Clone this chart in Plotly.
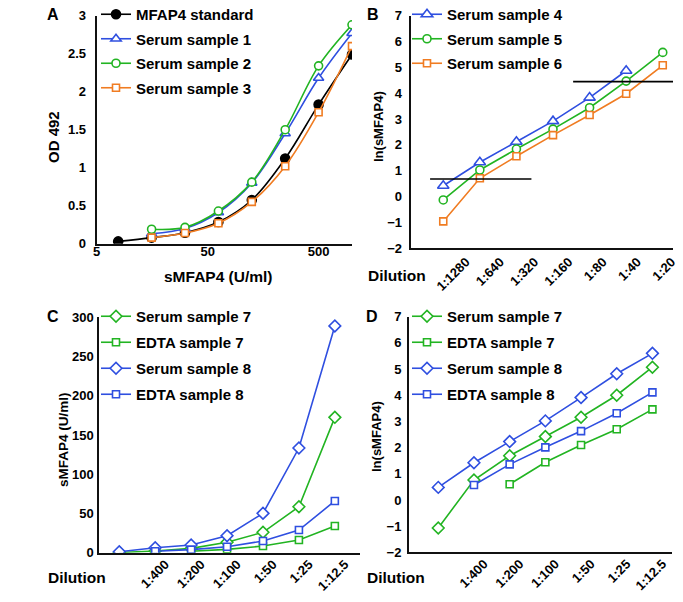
import plotly.graph_objects as go

# ---------------- data ----------------
# Panel A: standard curve and serum samples (OD 492 vs sMFAP4 U/ml)
conc_std = [7.8125, 15.625, 31.25, 62.5, 125, 250, 500, 1000]
od_standard = [0.03, 0.08, 0.145, 0.285, 0.575, 1.12, 1.83, 2.49]
conc_serum = [15.625, 31.25, 62.5, 125, 250, 500, 1000]
od_serum1 = [0.13, 0.20, 0.41, 0.80, 1.45, 2.18, 2.77]
od_serum2 = [0.19, 0.215, 0.43, 0.81, 1.50, 2.34, 2.88]
od_serum3 = [0.08, 0.14, 0.27, 0.55, 1.02, 1.73, 2.60]
a_ticks = [5, 50, 500]

# Panel B: ln(sMFAP4) vs dilution
dilution_B = ["1:1280", "1:640", "1:320", "1:160", "1:80", "1:40", "1:20"]
ln_serum4 = [0.42, 1.33, 2.12, 2.92, 3.83, 4.87, None]
ln_serum5 = [-0.13, 1.03, 1.84, 2.61, 3.44, 4.47, 5.58]
ln_serum6 = [-0.96, 0.71, 1.56, 2.38, 3.16, 3.98, 5.08]
cutoff_low = 0.68
cutoff_high = 4.45

# Panels C and D: serum vs EDTA plasma
dilution_CD = ["1:800", "1:400", "1:200", "1:100", "1:50", "1:25", "1:12.5"]
tick_labels_CD = ["", "1:400", "1:200", "1:100", "1:50", "1:25", "1:12.5"]
c_serum7 = [0.3, 2.2, 5.5, 13.3, 26.0, 58.6, 172.5]
c_edta7 = [None, None, 1.8, 4.2, 8.5, 16.2, 34.0]
c_serum8 = [1.3, 6.4, 9.8, 21.7, 50.2, 133.4, 289.0]
c_edta8 = [None, 1.8, 3.9, 7.5, 14.9, 28.9, 65.9]
d_serum7 = [-1.07, 0.76, 1.69, 2.42, 3.16, 4.00, 5.07]
d_edta7 = [None, None, 0.60, 1.44, 2.10, 2.70, 3.46]
d_serum8 = [0.48, 1.42, 2.23, 3.02, 3.91, 4.82, 5.60]
d_edta8 = [None, 0.57, 1.36, 2.01, 2.63, 3.31, 4.11]

# ---------------- styling ----------------
W, H = 683, 602
FONT = "Liberation Sans, Arial, sans-serif"
BLACK = "#000000"
BLUE = "#2f4fe0"
GREEN = "#22b422"
ORANGE = "#f07c22"


def px_x(p):
    return p / W


def px_y(p):
    return 1 - p / H


fig = go.Figure()
idx = list(range(7))
# in the original panel B the rotated labels are spread slightly tighter than the points
label_pos_B = [0.62 + 0.937 * i for i in idx]


def line_trace(x, y, name, color, symbol, xa, ya, legend, shape="linear", size=8, filled=False):
    return go.Scatter(
        x=x, y=y, name=name, mode="lines+markers",
        line=dict(color=color, width=1.6, shape=shape, smoothing=1.0),
        marker=dict(symbol=symbol, size=size, color=color if filled else "white",
                    line=dict(color=color, width=1.6)),
        xaxis=xa, yaxis=ya, legend=legend, legendgroup=name, connectgaps=False,
    )

# Panel A
fig.add_trace(line_trace(conc_std, od_standard, "MFAP4 standard", BLACK, "circle", "x", "y", "legend", "spline", 9, True))
fig.add_trace(line_trace(conc_serum, od_serum1, "Serum sample 1", BLUE, "triangle-up", "x", "y", "legend", "spline", 9))
fig.add_trace(line_trace(conc_serum, od_serum2, "Serum sample 2", GREEN, "circle", "x", "y", "legend", "spline", 8))
fig.add_trace(line_trace(conc_serum, od_serum3, "Serum sample 3", ORANGE, "square", "x", "y", "legend", "spline", 7))

# Panel B
fig.add_trace(line_trace(idx, ln_serum4, "Serum sample 4", BLUE, "triangle-up", "x2", "y2", "legend2", size=10))
fig.add_trace(line_trace(idx, ln_serum5, "Serum sample 5", GREEN, "circle", "x2", "y2", "legend2", size=8))
fig.add_trace(line_trace(idx, ln_serum6, "Serum sample 6", ORANGE, "square", "x2", "y2", "legend2", size=7))

# Panel C
fig.add_trace(line_trace(idx, c_serum7, "Serum sample 7", GREEN, "diamond", "x3", "y3", "legend3", size=9))
fig.add_trace(line_trace(idx, c_edta7, "EDTA sample 7", GREEN, "square", "x3", "y3", "legend3", size=7))
fig.add_trace(line_trace(idx, c_serum8, "Serum sample 8", BLUE, "diamond", "x3", "y3", "legend3", size=9))
fig.add_trace(line_trace(idx, c_edta8, "EDTA sample 8", BLUE, "square", "x3", "y3", "legend3", size=7))

# Panel D
fig.add_trace(line_trace(idx, d_serum7, "Serum sample 7", GREEN, "diamond", "x4", "y4", "legend4", size=9))
fig.add_trace(line_trace(idx, d_edta7, "EDTA sample 7", GREEN, "square", "x4", "y4", "legend4", size=7))
fig.add_trace(line_trace(idx, d_serum8, "Serum sample 8", BLUE, "diamond", "x4", "y4", "legend4", size=9))
fig.add_trace(line_trace(idx, d_edta8, "EDTA sample 8", BLUE, "square", "x4", "y4", "legend4", size=7))

# cut-off lines in B
fig.add_shape(type="line", xref="x2", yref="y2", x0=-0.36, x1=2.41, y0=cutoff_low, y1=cutoff_low,
              line=dict(color=BLACK, width=1.6))
fig.add_shape(type="line", xref="x2", yref="y2", x0=3.55, x1=6.28, y0=cutoff_high, y1=cutoff_high,
              line=dict(color=BLACK, width=1.6))

tickfont = dict(family=FONT, size=13, color=BLACK, weight="bold")
axis_common = dict(showline=True, linecolor="#111111", linewidth=2, showgrid=False, zeroline=False,
                   ticks="", tickfont=tickfont, mirror=False, ticklabeloverflow="allow")

fig.update_layout(
    width=W, height=H, margin=dict(l=0, r=0, t=0, b=0, autoexpand=False),
    paper_bgcolor="white", plot_bgcolor="white",
    font=dict(family=FONT, color=BLACK),
    xaxis=dict(axis_common, type="log", domain=[px_x(96.7), px_x(352)],
               range=[0.69897, 3.0], tickvals=a_ticks, ticktext=[str(v) for v in a_ticks],
               anchor="y", ticklabelstandoff=-5),
    yaxis=dict(axis_common, domain=[px_y(243.7), px_y(15.7)], range=[0, 3],
               tickvals=[0, 0.5, 1, 1.5, 2, 2.5, 3], ticktext=["0", "0.5", "1", "1.5", "2", "2.5", "3"],
               anchor="x", ticklabelstandoff=6),
    xaxis2=dict(axis_common, domain=[px_x(410.7), px_x(673)], range=[-0.89, 6.28],
                tickvals=label_pos_B, ticktext=dilution_B, tickangle=-45, anchor="y2",
                ticklabelshift=0, ticklabelstandoff=-1),
    yaxis2=dict(axis_common, domain=[px_y(248.3), px_y(15.7)], range=[-2, 7], dtick=1,
                anchor="x2", ticklabelstandoff=4),
    xaxis3=dict(axis_common, domain=[px_x(99.3), px_x(360)], range=[-0.556, 6.70],
                tickvals=idx, ticktext=tick_labels_CD, tickangle=-45, anchor="y3",
                ticklabelshift=10, ticklabelstandoff=-3),
    yaxis3=dict(axis_common, domain=[px_y(552.7), px_y(317.3)], range=[0, 300], dtick=50,
                anchor="x3", ticklabelstandoff=1),
    xaxis4=dict(axis_common, domain=[px_x(409), px_x(671.7)], range=[-0.82, 6.54],
                tickvals=idx, ticktext=tick_labels_CD, tickangle=-45, anchor="y4",
                ticklabelshift=10, ticklabelstandoff=-3),
    yaxis4=dict(axis_common, domain=[px_y(552.3), px_y(316.7)], range=[-2, 7], dtick=1,
                anchor="x4", ticklabelstandoff=3),
)

legend_font = dict(family=FONT, size=15, color=BLACK, weight="bold")


def legend_cfg(x_px, y_px, gap):
    return dict(x=px_x(x_px), y=px_y(y_px), xanchor="left", yanchor="top",
                bgcolor="rgba(0,0,0,0)", font=legend_font, traceorder="grouped",
                tracegroupgap=gap, itemwidth=30)

fig.update_layout(
    legend=legend_cfg(96, -2, 2),
    legend2=legend_cfg(407, -2, 2),
    legend3=legend_cfg(96, 300, 3.5),
    legend4=legend_cfg(407, 300, 3.5),
)

ann_font = dict(family=FONT, size=16, color=BLACK, weight="bold")
annotations = [
    dict(text="A", x=px_x(53), y=px_y(15)),
    dict(text="B", x=px_x(373), y=px_y(15)),
    dict(text="C", x=px_x(53), y=px_y(316)),
    dict(text="D", x=px_x(372), y=px_y(317)),
    dict(text="OD 492", x=px_x(53), y=px_y(137), textangle=-90, font=dict(ann_font, size=15)),
    dict(text="sMFAP4 (U/ml)", x=px_x(218), y=px_y(276), font=dict(ann_font, size=15.5)),
    dict(text="ln(sMFAP4)", x=px_x(378), y=px_y(127), textangle=-90, font=dict(ann_font, size=13)),
    dict(text="sMFAP4 (U/ml)", x=px_x(63), y=px_y(440), textangle=-90, font=dict(ann_font, size=13.5)),
    dict(text="ln(sMFAP4)", x=px_x(376), y=px_y(437), textangle=-90, font=dict(ann_font, size=13)),
    dict(text="Dilution", x=px_x(397), y=px_y(275), font=dict(ann_font, size=15.5)),
    dict(text="Dilution", x=px_x(77), y=px_y(577), font=dict(ann_font, size=15.5)),
    dict(text="Dilution", x=px_x(396), y=px_y(577), font=dict(ann_font, size=15.5)),
]
for a in annotations:
    a.setdefault("font", ann_font)
    a.update(xref="paper", yref="paper", showarrow=False, xanchor="center", yanchor="middle")
fig.update_layout(annotations=annotations)

fig.write_html("out.html", config={"displayModeBar": False},
               post_script="document.body.style.margin='0';")
